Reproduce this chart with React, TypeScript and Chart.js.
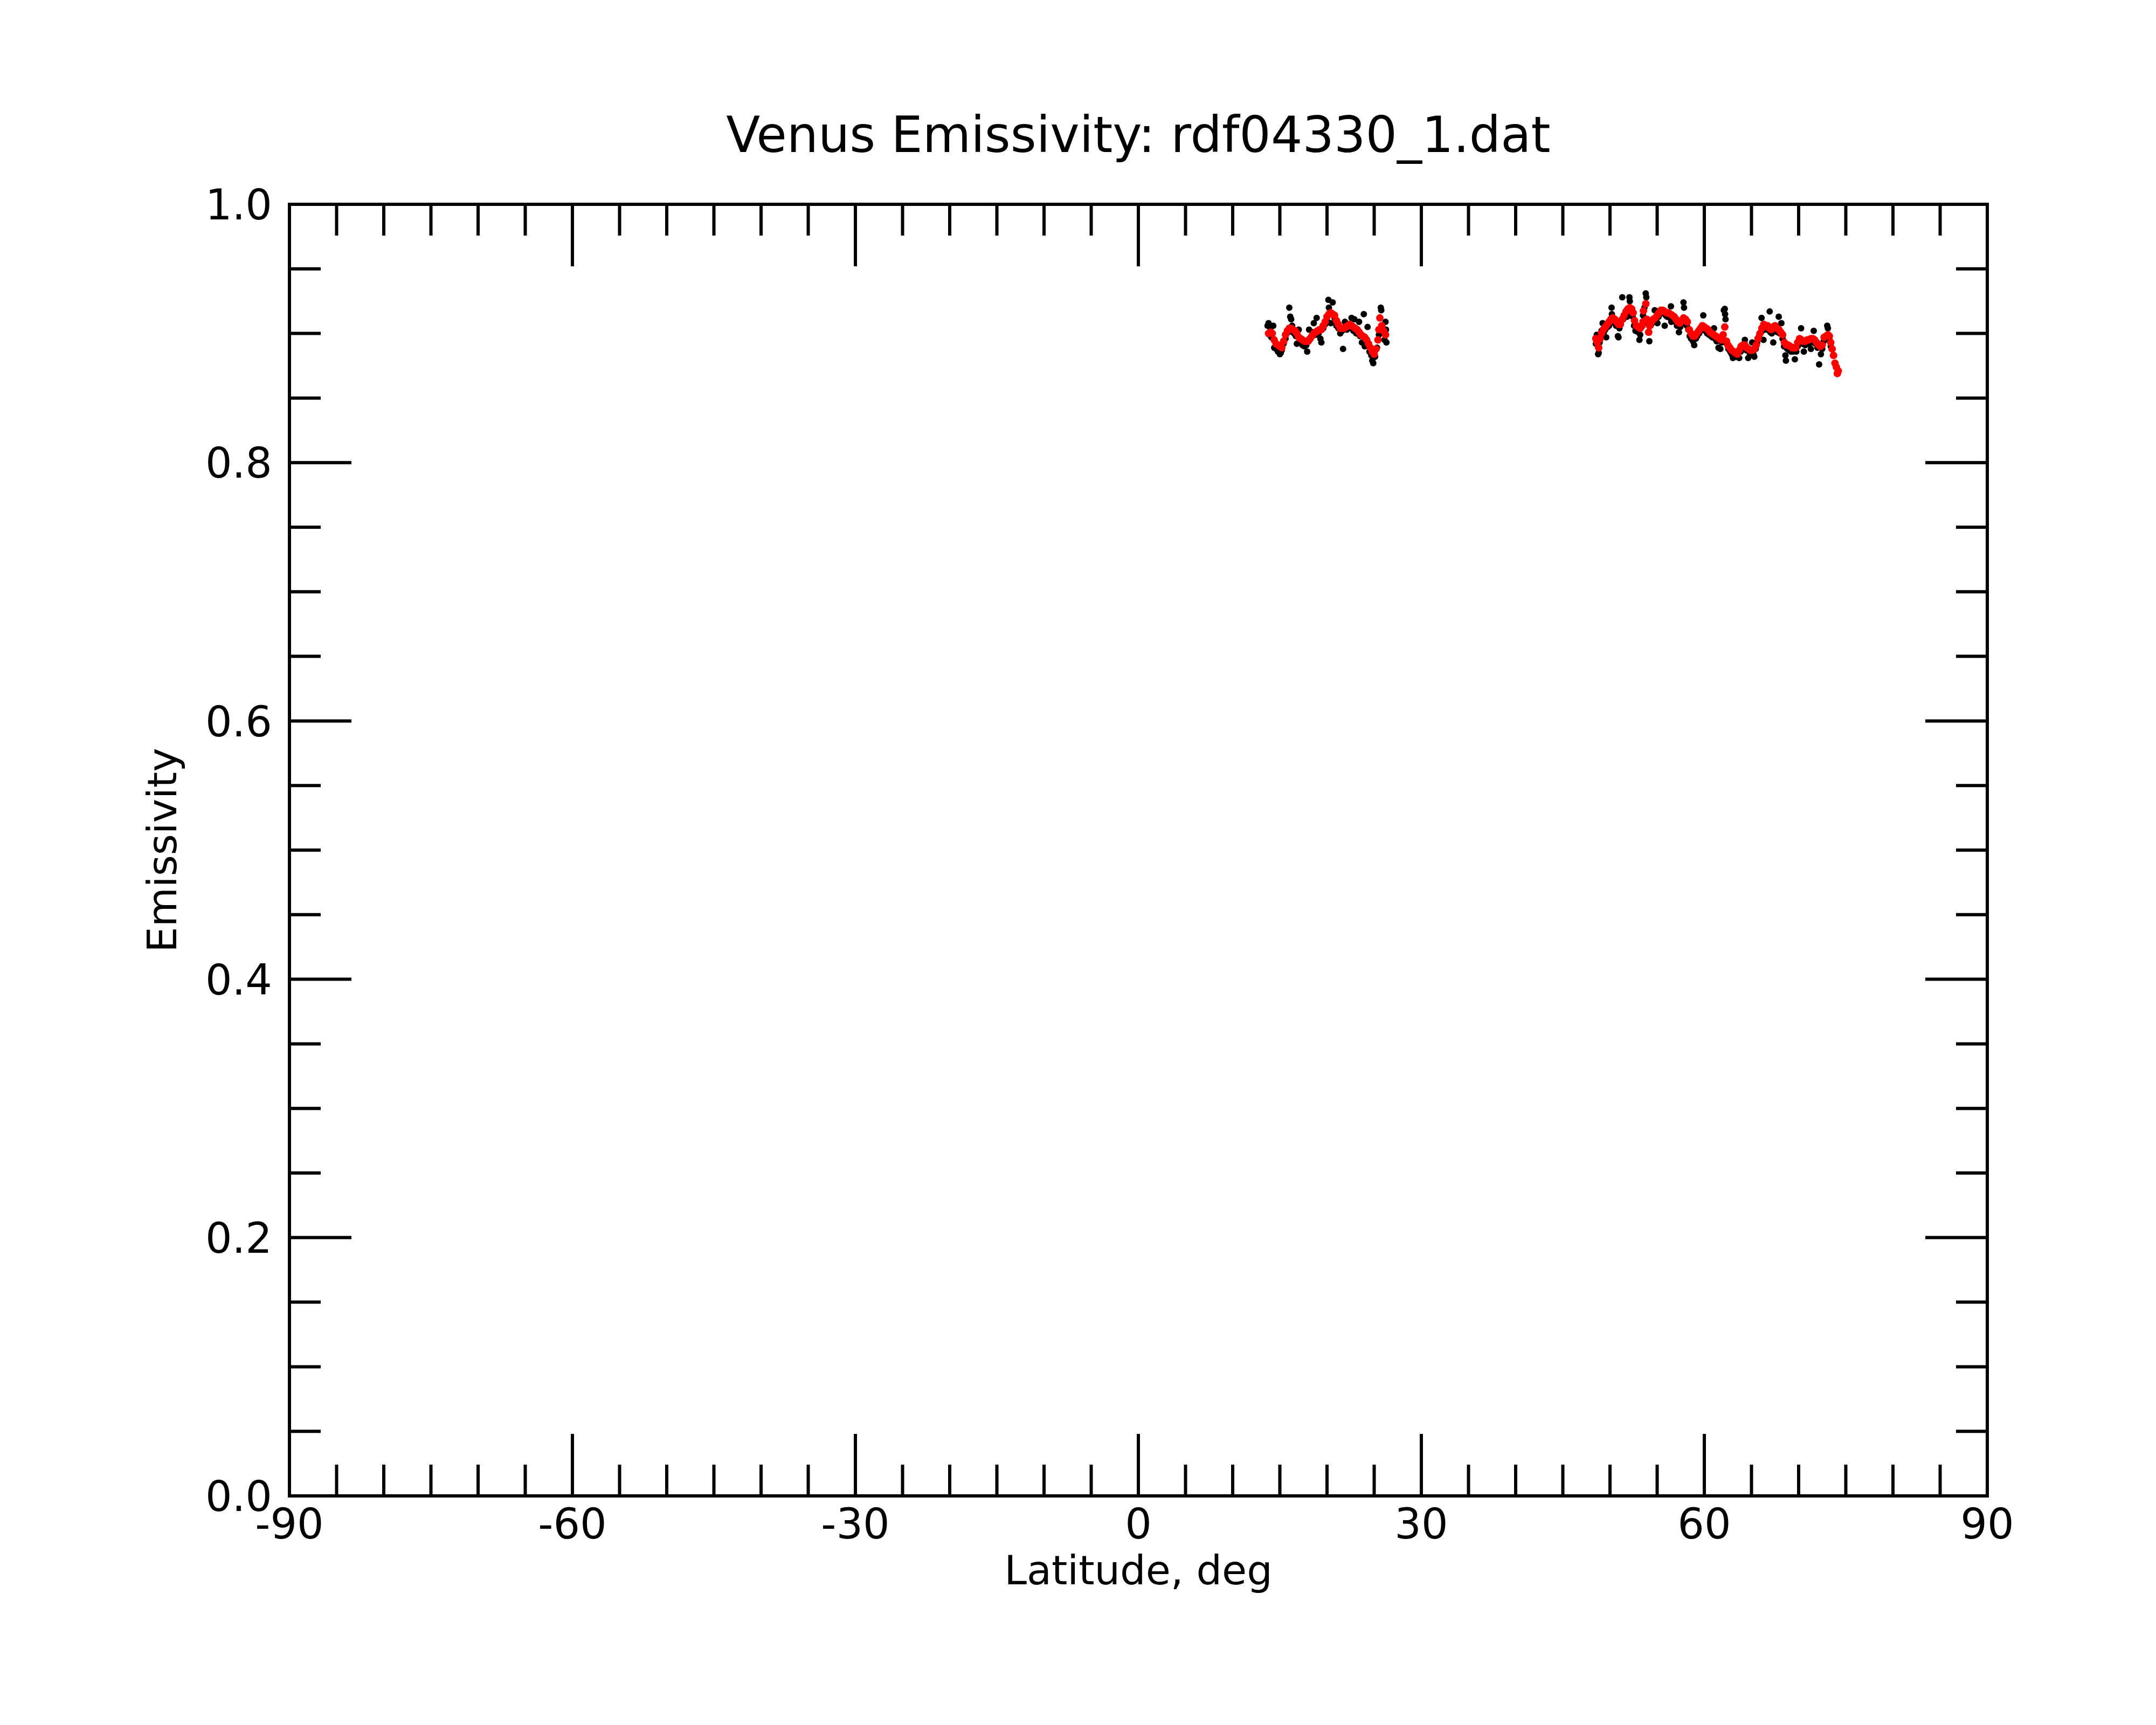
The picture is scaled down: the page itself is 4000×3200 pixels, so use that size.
import { useEffect, useRef } from "react";
import { Chart, registerables } from "chart.js";

Chart.register(...registerables);

const chartTitle = "Venus Emissivity: rdf04330_1.dat";
const xAxisTitle = "Latitude, deg";
const yAxisTitle = "Emissivity";

// Smoothed series (red)
const smoothLat = [
  13.8, 14.0, 14.2, 14.4, 14.6, 14.8, 15.0, 15.2, 15.4, 15.6, 15.8, 16.0, 16.2, 16.4, 16.6, 16.8,
  17.0, 17.2, 17.4, 17.6, 17.8, 18.0, 18.2, 18.4, 18.6, 18.8, 19.0, 19.2, 19.4, 19.6, 19.8, 20.0,
  20.2, 20.4, 20.6, 20.8, 21.0, 21.2, 21.4, 21.6, 21.8, 22.0, 22.2, 22.4, 22.6, 22.8, 23.0, 23.2,
  23.4, 23.6, 23.8, 24.0, 24.2, 24.4, 24.6, 24.8, 25.0, 25.2, 25.4, 25.5, 25.6, 25.8, 26.0, 26.2,
  48.5, 48.65, 48.8, 48.95, 49.1, 49.3, 49.5, 49.7, 49.9, 50.1, 50.3, 50.5, 50.7, 50.9, 51.1, 51.3,
  51.5, 51.7, 51.9, 52.1, 52.3, 52.45, 52.6, 52.8, 53.0, 53.2, 53.4, 53.5, 53.55, 53.8, 53.9, 54.1,
  54.2, 54.4, 54.6, 54.8, 55.0, 55.2, 55.4, 55.6, 55.8, 56.0, 56.2, 56.4, 56.6, 56.8, 57.0, 57.2,
  57.4, 57.6, 57.8, 58.0, 58.2, 58.4, 58.6, 58.8, 59.0, 59.2, 59.4, 59.6, 59.8, 60.0, 60.2, 60.4,
  60.6, 60.8, 61.0, 61.2, 61.4, 61.6, 61.8, 62.0, 62.17, 62.35, 62.5, 62.7, 62.9, 63.1, 63.3, 63.5,
  63.7, 63.9, 64.1, 64.3, 64.5, 64.7, 64.9, 65.1, 65.3, 65.5, 65.7, 65.9, 66.1, 66.3, 66.5, 66.7,
  66.9, 67.1, 67.3, 67.5, 67.7, 67.9, 68.1, 68.3, 68.5, 68.7, 68.9, 69.1, 69.3, 69.5, 69.7, 69.9,
  70.1, 70.3, 70.5, 70.7, 70.9, 71.1, 71.3, 71.5, 71.7, 71.9, 72.1, 72.3, 72.5, 72.7, 72.9, 73.1,
  73.25, 73.4, 73.55, 73.7, 73.85, 74.0, 74.1, 74.2,
];
const smoothEm = [
  0.900, 0.901, 0.900, 0.895, 0.892, 0.891, 0.890, 0.889, 0.894, 0.899, 0.902, 0.904, 0.904, 0.903, 0.902, 0.900,
  0.897, 0.896, 0.895, 0.894, 0.894, 0.894, 0.896, 0.898, 0.900, 0.901, 0.902, 0.903, 0.903, 0.906, 0.909, 0.913,
  0.915, 0.916, 0.915, 0.914, 0.910, 0.907, 0.904, 0.904, 0.904, 0.905, 0.906, 0.907, 0.906, 0.905, 0.904, 0.903,
  0.901, 0.899, 0.898, 0.897, 0.895, 0.892, 0.889, 0.886, 0.884, 0.888, 0.895, 0.903, 0.912, 0.906, 0.902, 0.899,
  0.896, 0.893, 0.889, 0.896, 0.900, 0.903, 0.905, 0.907, 0.909, 0.911, 0.912, 0.911, 0.909, 0.907, 0.907, 0.911,
  0.914, 0.917, 0.919, 0.920, 0.919, 0.916, 0.910, 0.906, 0.905, 0.904, 0.906, 0.909, 0.9175, 0.923, 0.911, 0.901,
  0.906, 0.909, 0.911, 0.912, 0.914, 0.916, 0.918, 0.918, 0.917, 0.916, 0.916, 0.915, 0.914, 0.913, 0.911, 0.909,
  0.908, 0.910, 0.912, 0.911, 0.909, 0.903, 0.900, 0.898, 0.898, 0.900, 0.902, 0.904, 0.906, 0.905, 0.904, 0.903,
  0.901, 0.900, 0.899, 0.898, 0.897, 0.896, 0.895, 0.899, 0.905, 0.894, 0.891, 0.889, 0.887, 0.886, 0.885, 0.884,
  0.887, 0.890, 0.891, 0.891, 0.889, 0.888, 0.887, 0.887, 0.888, 0.891, 0.896, 0.900, 0.904, 0.907, 0.906, 0.906,
  0.904, 0.903, 0.905, 0.906, 0.904, 0.903, 0.901, 0.899, 0.893, 0.891, 0.891, 0.890, 0.889, 0.889, 0.889, 0.893,
  0.896, 0.895, 0.894, 0.894, 0.895, 0.895, 0.896, 0.896, 0.895, 0.893, 0.891, 0.890, 0.891, 0.897, 0.898, 0.899,
  0.898, 0.893, 0.888, 0.883, 0.877, 0.874, 0.869, 0.871,
];

// Raw measurements (black)
const rawLat = [
  13.7, 13.8, 13.9, 14.0, 14.1, 14.3, 14.4, 14.6, 14.8, 15.0, 15.1, 15.2, 15.4, 15.6, 15.9, 16.0,
  16.1, 16.2, 16.3, 16.5, 16.7, 16.8, 17.0, 17.2, 17.4, 17.6, 17.8, 17.9, 18.1, 18.3, 18.5, 18.6,
  18.8, 18.9, 19.1, 19.3, 19.4, 19.6, 19.8, 20.0, 20.15, 20.2, 20.4, 20.6, 20.8, 21.0, 21.2, 21.4,
  21.6, 21.7, 21.9, 22.1, 22.3, 22.6, 22.8, 22.9, 23.1, 23.4, 23.5, 23.7, 23.9, 24.0, 24.1, 24.3,
  24.5, 24.7, 24.8, 24.9, 25.1, 25.3, 25.5, 25.7, 25.75, 25.9, 26.1, 26.2, 26.25, 26.3,
  48.5, 48.6, 48.74, 48.8, 48.9, 49.0, 49.1, 49.22, 49.35, 49.5, 49.6, 49.75, 49.9, 50.05, 50.17, 50.2,
  50.35, 50.5, 50.65, 50.84, 50.9, 51.0, 51.15, 51.3, 51.4, 51.55, 51.8, 51.9, 52.06, 52.1, 52.25, 52.4,
  52.55, 52.7, 52.85, 53.0, 53.12, 53.2, 53.35, 53.5, 53.65, 53.79, 53.85, 54.0, 54.17, 54.3, 54.45, 54.6,
  54.74, 54.9, 55.03, 55.15, 55.3, 55.45, 55.6, 55.8, 55.9, 56.05, 56.2, 56.35, 56.46, 56.5, 56.65, 56.8,
  56.95, 57.1, 57.31, 57.45, 57.6, 57.79, 57.85, 58.0, 58.15, 58.3, 58.45, 58.6, 58.8, 58.93, 59.1, 59.25,
  59.45, 59.6, 59.89, 59.95, 60.1, 60.3, 60.5, 60.7, 60.85, 61.03, 61.15, 61.3, 61.5, 61.7, 61.85, 62.07,
  62.17, 62.2, 62.25, 62.4, 62.55, 62.75, 62.9, 63.03, 63.2, 63.4, 63.55, 63.7, 63.85, 64.0, 64.15, 64.3,
  64.45, 64.65, 64.8, 64.95, 65.07, 65.2, 65.3, 65.45, 65.6, 65.8, 66.07, 66.15, 66.27, 66.4, 66.6, 66.8,
  66.93, 67.0, 67.15, 67.31, 67.45, 67.6, 67.75, 67.89, 68.0, 68.17, 68.3, 68.45, 68.6, 68.65, 68.8, 69.0,
  69.2, 69.4, 69.6, 69.75, 69.9, 70.1, 70.26, 70.4, 70.55, 70.7, 70.9, 71.1, 71.3, 71.45, 71.6, 71.8,
  72.0, 72.17, 72.36, 72.5, 72.65, 72.8, 73.03, 73.1, 73.25, 73.41,
];
const rawEm = [
  0.906, 0.908, 0.899, 0.904, 0.897, 0.906, 0.889, 0.888, 0.886, 0.884, 0.885, 0.887, 0.892, 0.896, 0.901, 0.920,
  0.913, 0.911, 0.906, 0.900, 0.898, 0.892, 0.903, 0.893, 0.891, 0.890, 0.891, 0.886, 0.903, 0.897, 0.901, 0.908,
  0.899, 0.912, 0.900, 0.896, 0.893, 0.904, 0.907, 0.910, 0.926, 0.920, 0.908, 0.924, 0.912, 0.906, 0.904, 0.900,
  0.902, 0.888, 0.909, 0.903, 0.904, 0.912, 0.902, 0.911, 0.900, 0.909, 0.898, 0.893, 0.915, 0.890, 0.894, 0.905,
  0.886, 0.883, 0.879, 0.877, 0.882, 0.889, 0.899, 0.920, 0.918, 0.903, 0.895, 0.909, 0.903, 0.893,
  0.892, 0.899, 0.884, 0.885, 0.893, 0.897, 0.902, 0.908, 0.901, 0.903, 0.897, 0.905, 0.906, 0.909, 0.920, 0.915,
  0.909, 0.908, 0.906, 0.898, 0.897, 0.904, 0.908, 0.928, 0.911, 0.914, 0.913, 0.916, 0.928, 0.925, 0.917, 0.913,
  0.906, 0.902, 0.903, 0.901, 0.895, 0.899, 0.905, 0.914, 0.920, 0.931, 0.928, 0.908, 0.894, 0.906, 0.908, 0.910,
  0.918, 0.911, 0.908, 0.913, 0.915, 0.916, 0.916, 0.906, 0.914, 0.913, 0.914, 0.912, 0.921, 0.909, 0.912, 0.910,
  0.909, 0.906, 0.901, 0.905, 0.907, 0.924, 0.920, 0.908, 0.906, 0.903, 0.898, 0.896, 0.894, 0.891, 0.896, 0.898,
  0.900, 0.902, 0.914, 0.903, 0.902, 0.900, 0.899, 0.898, 0.897, 0.904, 0.896, 0.894, 0.889, 0.888, 0.893, 0.918,
  0.919, 0.915, 0.911, 0.892, 0.888, 0.886, 0.884, 0.881, 0.883, 0.882, 0.882, 0.881, 0.886, 0.888, 0.889, 0.895,
  0.887, 0.881, 0.885, 0.884, 0.893, 0.884, 0.882, 0.888, 0.893, 0.898, 0.912, 0.902, 0.895, 0.904, 0.903, 0.903,
  0.917, 0.901, 0.900, 0.893, 0.902, 0.903, 0.901, 0.913, 0.900, 0.908, 0.896, 0.890, 0.883, 0.879, 0.888, 0.887,
  0.886, 0.886, 0.880, 0.886, 0.890, 0.893, 0.904, 0.892, 0.886, 0.891, 0.892, 0.892, 0.888, 0.893, 0.902, 0.892,
  0.889, 0.876, 0.884, 0.888, 0.894, 0.895, 0.906, 0.904, 0.896, 0.890,
];

const xMin = -90;
const xMax = 90;
const xMajorStep = 30;
const xMinorStep = 5;
const yMin = 0;
const yMax = 1;
const yMajorStep = 0.2;
const yMinorStep = 0.05;

const FONT = '"DejaVu Sans", "Liberation Sans", sans-serif';

export default function App() {
  const ref = useRef<HTMLCanvasElement | null>(null);

  useEffect(() => {
    document.body.style.margin = "0";
    const canvas = ref.current;
    if (!canvas) return;

    const framePlugin = {
      id: "frameTicksTitles",
      afterDraw(chart: any) {
        const { ctx, chartArea: a, scales } = chart;
        const xs = scales.x;
        const ys = scales.y;
        const major = 115;
        const minor = 58;
        ctx.save();
        ctx.strokeStyle = "#000";
        ctx.lineWidth = 6;
        ctx.lineCap = "butt";
        ctx.beginPath();
        const nx = Math.round((xMax - xMin) / xMinorStep);
        const perX = Math.round(xMajorStep / xMinorStep);
        for (let i = 1; i < nx; i++) {
          const v = xMin + i * xMinorStep;
          const px = xs.getPixelForValue(v);
          const len = i % perX === 0 ? major : minor;
          ctx.moveTo(px, a.bottom);
          ctx.lineTo(px, a.bottom - len);
          ctx.moveTo(px, a.top);
          ctx.lineTo(px, a.top + len);
        }
        const ny = Math.round((yMax - yMin) / yMinorStep);
        const perY = Math.round(yMajorStep / yMinorStep);
        for (let i = 1; i < ny; i++) {
          const v = yMin + i * yMinorStep;
          const py = ys.getPixelForValue(v);
          const len = i % perY === 0 ? major : minor;
          ctx.moveTo(a.left, py);
          ctx.lineTo(a.left + len, py);
          ctx.moveTo(a.right, py);
          ctx.lineTo(a.right - len, py);
        }
        ctx.stroke();
        ctx.strokeRect(a.left, a.top, a.right - a.left, a.bottom - a.top);

        ctx.fillStyle = "#000";
        ctx.textAlign = "center";
        ctx.textBaseline = "alphabetic";
        ctx.font = `92px ${FONT}`;
        const cx = (a.left + a.right) / 2;
        ctx.fillText(chartTitle, cx, a.top - 97);
        ctx.font = `75px ${FONT}`;
        ctx.fillText(xAxisTitle, cx, a.bottom + 164);
        ctx.translate(a.left - 210, (a.top + a.bottom) / 2);
        ctx.rotate(-Math.PI / 2);
        ctx.fillText(yAxisTitle, 0, 0);
        ctx.restore();
      },
    };

    const chart = new Chart(canvas, {
      type: "scatter",
      data: {
        datasets: [
          {
            label: "smoothed",
            data: smoothLat.map((x, i) => ({ x, y: smoothEm[i] })),
            backgroundColor: "#ff0000",
            borderWidth: 0,
            pointRadius: 7,
            pointHoverRadius: 7,
            order: 0,
          },
          {
            label: "raw",
            data: rawLat.map((x, i) => ({ x, y: rawEm[i] })),
            backgroundColor: "#000000",
            borderWidth: 0,
            pointRadius: 6,
            pointHoverRadius: 6,
            order: 1,
          },
        ],
      },
      options: {
        animation: false,
        responsive: false,
        devicePixelRatio: 1,
        events: [],
        layout: { padding: { left: 0, top: 379, right: 313, bottom: 0 } },
        plugins: {
          legend: { display: false },
          title: { display: false },
          tooltip: { enabled: false },
        },
        scales: {
          x: {
            type: "linear",
            min: xMin,
            max: xMax,
            grid: { display: false },
            border: { display: false },
            ticks: {
              stepSize: xMajorStep,
              padding: 4,
              color: "#000",
              maxRotation: 0,
              autoSkip: false,
              font: { family: FONT, size: 78 },
              callback: (v: any) => String(v),
            },
            afterFit: (s: any) => {
              s.height = 425;
            },
          },
          y: {
            type: "linear",
            min: yMin,
            max: yMax,
            grid: { display: false },
            border: { display: false },
            ticks: {
              stepSize: yMajorStep,
              padding: 24,
              labelOffset: 8,
              color: "#000",
              font: { family: FONT, size: 78 },
              callback: (v: any) => Number(v).toFixed(1),
            },
            afterFit: (s: any) => {
              s.width = 537;
            },
          },
        },
      },
      plugins: [framePlugin],
    });

    return () => chart.destroy();
  }, []);

  return (
    <div style={{ width: 4000, height: 3200, background: "#fff" }}>
      <canvas ref={ref} width={4000} height={3200} style={{ display: "block", width: 4000, height: 3200 }} />
    </div>
  );
}
